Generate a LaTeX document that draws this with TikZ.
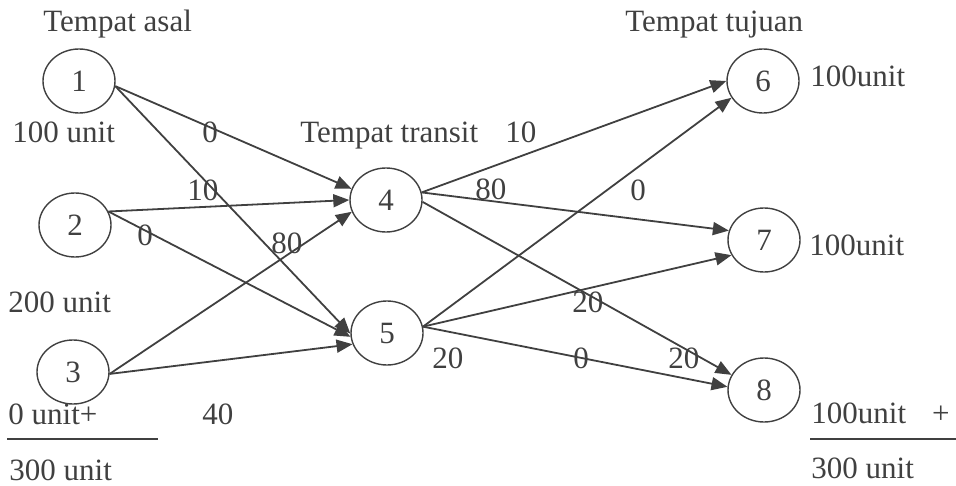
\documentclass[tikz,border=0pt]{standalone}
\usepackage{fontspec}
\setmainfont{Liberation Serif}
\usetikzlibrary{shapes.geometric,arrows.meta}
\definecolor{ink}{HTML}{404040}
\begin{document}
\begin{tikzpicture}[x=0.5pt,y=-0.5pt,
  every node/.style={text=ink, font=\fontsize{15.5}{18}\selectfont},
  place/.style={draw=ink, line width=0.7pt, ellipse, minimum width=36pt, minimum height=32pt, inner sep=0pt},
  lbl/.style={anchor=base west, inner sep=0pt},
  flow/.style={draw=ink, line width=0.9pt, -{Triangle[length=8pt,width=6.5pt]}},
  rule/.style={draw=ink, line width=0.8pt}]
\useasboundingbox (0,0) rectangle (956,486);

% origins, transit points and destinations
\node[place] (n1) at (79,81) {\raisebox{-2pt}{1}};
\node[place] (n2) at (75,225) {\raisebox{-2pt}{2}};
\node[place] (n3) at (73,372) {\raisebox{-2pt}{3}};
\node[place] (n4) at (386,200) {\raisebox{-2pt}{4}};
\node[place] (n5) at (387,333) {\raisebox{-2pt}{5}};
\node[place] (n6) at (763,81) {\raisebox{-2pt}{6}};
\node[place] (n7) at (764,240) {\raisebox{-2pt}{7}};
\node[place] (n8) at (764,390) {\raisebox{-2pt}{8}};

% shipments from origins to transit points
\draw[flow] (n1.-8) -- (n4.162);
\draw[flow] (n1.-8) -- (n5.181);
\draw[flow] (n2.22) -- (n4.180);
\draw[flow] (n2.22) -- (n5.186);
\draw[flow] (n3.-3) -- (n4.199);
\draw[flow] (n3.-3) -- (n5.198);

% shipments from transit points to destinations
\draw[flow] (n4.12) -- (n6.180);
\draw[flow] (n4.12) -- (n7.165);
\draw[flow] (n4.-3) -- (n8.155);
\draw[flow] (n5.10) -- (n6.208);
\draw[flow] (n5.10) -- (n7.205);
\draw[flow] (n5.10) -- (n8.175);

% headings
\node[lbl] (hAsal) at (43,32) {Tempat asal};
\node[lbl] (hTransit) at (300,143) {Tempat transit};
\node[lbl] (hTujuan) at (625,32) {Tempat tujuan};

% supplies
\node[lbl] (s1) at (12,143) {100 unit};
\node[lbl] (s2) at (8,312) {200 unit};
\node[lbl] (s3) at (8,424) {0 unit+};
\node[lbl] (sTot) at (9,480) {300 unit};
\coordinate (sL) at (7,439);
\coordinate (sR) at (158,439);
\draw[rule] (sL) -- (sR);

% demands
\node[lbl] (d6) at (810,87) {100unit};
\node[lbl] (d7) at (809,255) {100unit};
\node[lbl] (d8) at (811,423) {100unit\hspace{13pt}+};
\node[lbl] (dTot) at (811,478) {300 unit};
\coordinate (dL) at (810,439);
\coordinate (dR) at (956,439);
\draw[rule] (dL) -- (dR);

% costs on the routes
\node[lbl] (c14) at (202,143) {0};
\node[lbl] (c15) at (187,200) {10};
\node[lbl] (c25) at (137,245) {0};
\node[lbl] (c34) at (271,253) {80};
\node[lbl] (c35) at (202,424) {40};
\node[lbl] (c46) at (505,143) {10};
\node[lbl] (c47) at (475,199) {80};
\node[lbl] (c56) at (630,200) {0};
\node[lbl] (c48) at (572,312) {20};
\node[lbl] (c57) at (432,368) {20};
\node[lbl] (c58) at (573,368) {0};
\node[lbl] (c48b) at (668,368) {20};
\end{tikzpicture}
\end{document}
